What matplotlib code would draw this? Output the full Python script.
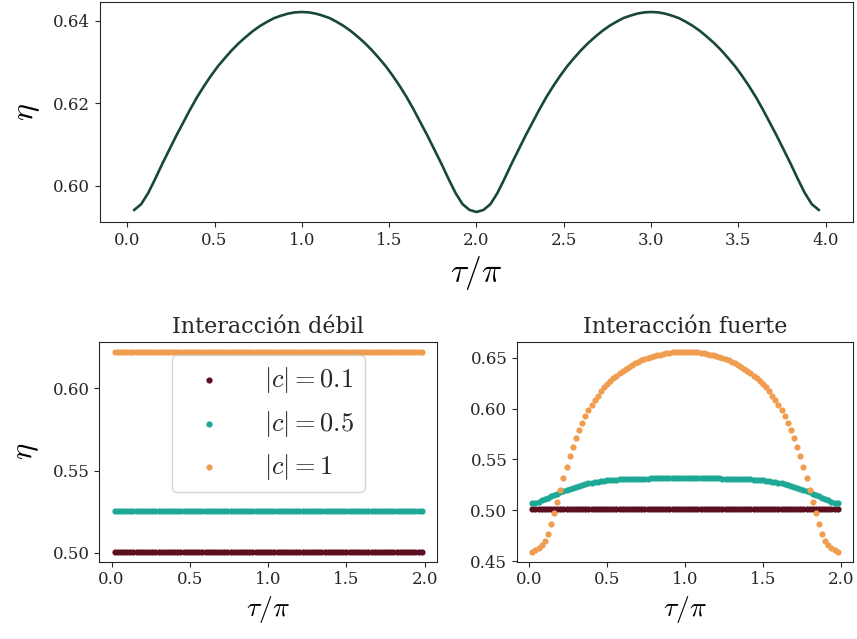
import numpy as np
import matplotlib
matplotlib.use("Agg")
import matplotlib.pyplot as plt
from matplotlib.ticker import MultipleLocator

# top panel: eta vs tau/pi, line
tau_top = np.arange(1, 100) * 0.04
eta_top = [
    0.5942, 0.5956, 0.5983, 0.6017, 0.6053, 0.6087, 0.6121, 0.6153, 0.6185, 0.6215,
    0.6242, 0.6267, 0.6290, 0.6310, 0.6329, 0.6346, 0.6361, 0.6375, 0.6387, 0.6397,
    0.6406, 0.6412, 0.6417, 0.6420, 0.6421,
    0.6420, 0.6417, 0.6412, 0.6406, 0.6397, 0.6387, 0.6375, 0.6361, 0.6346, 0.6329,
    0.6310, 0.6290, 0.6267, 0.6242, 0.6215, 0.6185, 0.6153, 0.6121, 0.6087, 0.6053,
    0.6017, 0.5983, 0.5956, 0.5942,
    0.5937,
    0.5942, 0.5956, 0.5983, 0.6017, 0.6053, 0.6087, 0.6121, 0.6153, 0.6185, 0.6215,
    0.6242, 0.6267, 0.6290, 0.6310, 0.6329, 0.6346, 0.6361, 0.6375, 0.6387, 0.6397,
    0.6406, 0.6412, 0.6417, 0.6420, 0.6421,
    0.6420, 0.6417, 0.6412, 0.6406, 0.6397, 0.6387, 0.6375, 0.6361, 0.6346, 0.6329,
    0.6310, 0.6290, 0.6267, 0.6242, 0.6215, 0.6185, 0.6153, 0.6121, 0.6087, 0.6053,
    0.6017, 0.5983, 0.5956, 0.5942,
]

# bottom panels: scatter, 99 points
tau = np.arange(1, 100) * 0.02
labels = [r"$|c| = 0.1$", r"$|c| = 0.5$", r"$|c| = 1$"]
colors = ["#5c0f20", "#1ea896", "#f09d4f"]

# weak interaction: flat
weak_01 = [0.5006] * 99
weak_05 = [0.5251] * 99
weak_1 = [0.6224] * 99

# strong interaction
strong_01 = [0.5008] * 99
strong_05 = [
    0.5067, 0.5075, 0.5085, 0.5097, 0.5110, 0.5123, 0.5137, 0.5150, 0.5163, 0.5176,
    0.5188, 0.5200, 0.5212, 0.5222, 0.5232, 0.5241, 0.5249, 0.5257, 0.5264, 0.5270,
    0.5276, 0.5281, 0.5286, 0.5290, 0.5294, 0.5297, 0.5300, 0.5302, 0.5304, 0.5306,
    0.5307, 0.5308, 0.5309, 0.5310, 0.5311, 0.5311, 0.5312, 0.5312, 0.5313, 0.5313,
    0.5313, 0.5314, 0.5314, 0.5314, 0.5314, 0.5315, 0.5315, 0.5315, 0.5315, 0.5315,
    0.5315, 0.5315, 0.5315, 0.5315, 0.5314, 0.5314, 0.5314, 0.5314, 0.5313,
    0.5313, 0.5313, 0.5312, 0.5312, 0.5311, 0.5311, 0.5310, 0.5309, 0.5308, 0.5307,
    0.5306, 0.5304, 0.5302, 0.5300, 0.5297, 0.5294, 0.5290, 0.5286, 0.5281, 0.5276,
    0.5270, 0.5264, 0.5257, 0.5249, 0.5241, 0.5232, 0.5222, 0.5212, 0.5200, 0.5188,
    0.5176, 0.5163, 0.5150, 0.5137, 0.5123, 0.5110, 0.5097, 0.5085, 0.5075, 0.5067,
]
strong_1 = [
    0.4592, 0.4610, 0.4630, 0.4660, 0.4698, 0.4770, 0.4860, 0.4970, 0.5085, 0.5200,
    0.5315, 0.5425, 0.5530, 0.5625, 0.5710, 0.5790, 0.5860, 0.5925, 0.5985, 0.6035,
    0.6080, 0.6125, 0.6170, 0.6208, 0.6242, 0.6273, 0.6300, 0.6325, 0.6348, 0.6370,
    0.6390, 0.6410, 0.6428, 0.6445, 0.6460, 0.6474, 0.6487, 0.6498, 0.6508, 0.6517,
    0.6525, 0.6532, 0.6538, 0.6544, 0.6549, 0.6553, 0.6556, 0.6558, 0.6559, 0.6560,
    0.6559, 0.6558, 0.6556, 0.6553, 0.6549, 0.6544, 0.6538, 0.6532, 0.6525,
    0.6517, 0.6508, 0.6498, 0.6487, 0.6474, 0.6460, 0.6445, 0.6428, 0.6410, 0.6390,
    0.6370, 0.6348, 0.6325, 0.6300, 0.6273, 0.6242, 0.6208, 0.6170, 0.6125, 0.6080,
    0.6035, 0.5985, 0.5925, 0.5860, 0.5790, 0.5710, 0.5625, 0.5530, 0.5425, 0.5315,
    0.5200, 0.5085, 0.4970, 0.4860, 0.4770, 0.4698, 0.4660, 0.4630, 0.4610, 0.4592,
]

plt.rcParams["font.family"] = "DejaVu Serif"
plt.rcParams["mathtext.fontset"] = "cm"
plt.rcParams["text.color"] = ".15"
plt.rcParams["axes.edgecolor"] = ".15"
plt.rcParams["xtick.color"] = ".15"
plt.rcParams["ytick.color"] = ".15"
plt.rcParams["xtick.labelsize"] = 12
plt.rcParams["ytick.labelsize"] = 12

fig = plt.figure(figsize=(8.57, 6.39), dpi=100)
ax_top = fig.add_axes([0.1167, 0.6526, 0.8786, 0.3443])
ax_weak = fig.add_axes([0.1159, 0.121, 0.394, 0.3443])
ax_strong = fig.add_axes([0.6033, 0.121, 0.392, 0.3443])

ax_top.plot(tau_top, eta_top, color="#17473d", lw=1.9)
ax_top.set_xlabel(r"$\tau/\pi$", fontsize=24)
ax_top.set_ylabel(r"$\eta$", fontsize=23, labelpad=8)
ax_top.yaxis.set_major_locator(MultipleLocator(0.02))

for ys, c, lab in zip([weak_01, weak_05, weak_1], colors, labels):
    ax_weak.scatter(tau, ys, s=20, color=c, linewidths=0, label=lab)
ax_weak.set_title("Interacción débil", fontsize=16)
ax_weak.set_xlabel(r"$\tau/\pi$", fontsize=20)
ax_weak.set_ylabel(r"$\eta$", fontsize=22, labelpad=8)
ax_weak.yaxis.set_major_locator(MultipleLocator(0.05))
ax_weak.legend(loc="upper center", fontsize=19, handletextpad=1.1)

for ys, c in zip([strong_01, strong_05, strong_1], colors):
    ax_strong.scatter(tau, ys, s=20, color=c, linewidths=0)
ax_strong.set_title("Interacción fuerte", fontsize=16)
ax_strong.set_xlabel(r"$\tau/\pi$", fontsize=20)
ax_strong.yaxis.set_major_locator(MultipleLocator(0.05))

fig.savefig("out.png", dpi=100)
